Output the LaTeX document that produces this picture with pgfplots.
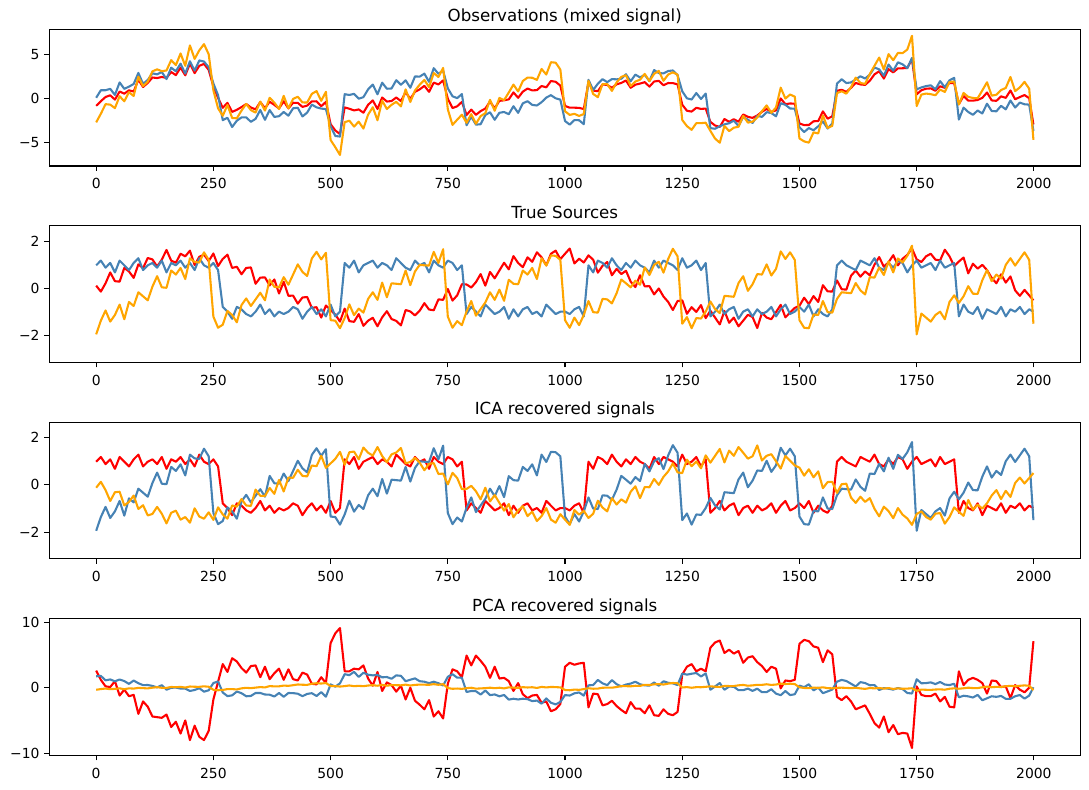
\documentclass[border=0pt]{standalone}
\usepackage{fontspec}
\setmainfont{DejaVu Sans}
\usepackage{pgfplots}
\usepackage{pgfplotstable}
\pgfplotsset{compat=1.18}
\definecolor{mplred}{RGB}{255,0,0}
\definecolor{steelblue}{RGB}{70,130,180}
\definecolor{mplorange}{RGB}{255,165,0}
\pgfplotstableread{
x s1 s2 s3 ms1 o1 o2 o3 p1 p2 p3
0 0.12 0.98 -1.94 -0.12 -0.84 0.08 -2.72 2.6 1.74 -0.32
10 -0.13 1.18 -1.36 0.13 -0.31 0.94 -1.74 1.2 1.80 -0.21
20 0.22 0.88 -0.93 -0.22 0.17 0.94 -0.65 0.2 1.12 -0.13
30 0.68 1.08 -1.40 -0.68 0.36 1.10 -0.70 0.1 1.26 -0.23
40 0.31 0.68 -1.12 -0.31 -0.13 0.40 -1.10 1.0 0.97 -0.18
50 0.29 1.18 -0.68 -0.29 0.79 1.83 0.26 -1.2 1.25 -0.10
60 0.87 0.98 -1.30 -0.87 0.55 1.10 -0.32 -0.3 1.01 -0.23
70 0.72 0.78 -0.57 -0.72 0.93 1.35 0.72 -1.3 0.58 -0.10
80 0.45 1.08 -0.74 -0.45 0.79 1.65 0.28 -1.1 1.09 -0.14
90 1.02 1.28 -0.16 -1.02 2.14 2.91 2.49 -4.0 0.68 -0.03
100 0.86 0.78 -0.33 -0.86 1.31 1.66 1.41 -2.1 0.39 -0.07
110 1.29 0.98 -0.50 -1.29 1.77 2.11 1.92 -2.9 0.41 -0.11
120 1.23 1.08 0.08 -1.23 2.39 2.86 3.09 -4.4 0.27 0.00
130 0.93 0.88 0.52 -0.93 2.33 2.75 3.32 -4.5 0.05 0.08
140 1.22 1.18 0.05 -1.22 2.45 3.02 3.11 -4.6 0.38 -0.02
150 1.63 0.68 0.03 -1.63 2.34 2.21 3.19 -4.1 -0.31 -0.03
160 1.18 1.08 0.76 -1.18 3.02 3.51 4.37 -6.0 -0.02 0.11
170 1.09 0.98 0.59 -1.09 2.66 3.10 3.80 -5.2 0.02 0.07
180 1.47 1.18 0.87 -1.47 3.52 3.97 5.13 -7.0 -0.14 0.12
190 1.36 0.88 0.40 -1.36 2.64 2.84 3.72 -5.0 -0.14 0.02
200 1.60 1.08 1.28 -1.60 3.96 4.24 6.04 -8.0 -0.50 0.18
210 0.99 0.78 1.12 -0.99 2.89 3.18 4.51 -5.8 -0.35 0.14
220 1.34 1.28 1.10 -1.34 3.72 4.33 5.49 -7.5 -0.08 0.13
230 1.43 0.98 1.53 -1.43 3.94 4.21 6.19 -8.0 -0.61 0.21
240 1.16 0.88 1.21 -1.16 3.25 3.55 5.04 -6.6 -0.40 0.14
250 1.48 1.08 -1.19 -1.48 1.37 1.71 0.92 -1.8 0.71 -0.32
260 0.95 0.78 -1.66 -0.95 0.07 0.38 -1.12 0.9 0.95 -0.39
270 1.25 -0.78 -1.53 -1.25 -1.06 -2.47 -1.97 3.6 -0.73 -0.35
280 1.43 -0.98 -0.95 -1.43 -0.50 -2.20 -0.74 2.4 -1.29 -0.21
290 0.87 -1.28 -1.12 -0.87 -1.53 -3.25 -2.22 4.5 -1.17 -0.22
300 0.92 -0.78 -1.43 -0.92 -1.29 -2.53 -2.26 4.0 -0.59 -0.27
310 0.60 -0.88 -0.70 -0.60 -0.98 -2.16 -1.38 3.0 -0.84 -0.10
320 0.87 -1.08 -0.42 -0.87 -0.63 -2.15 -0.62 2.3 -1.31 -0.02
330 0.89 -1.18 -0.74 -0.89 -1.03 -2.66 -1.33 3.3 -1.26 -0.07
340 0.20 -0.98 -0.46 -0.20 -1.24 -2.32 -1.60 3.4 -0.81 0.01
350 0.46 -0.68 -0.18 -0.46 -0.40 -1.31 -0.35 1.6 -0.81 0.09
360 0.47 -1.08 -0.50 -0.47 -1.11 -2.43 -1.38 3.2 -1.04 0.04
370 0.13 -0.88 0.38 -0.13 -0.37 -1.32 0.08 1.3 -1.07 0.24
380 0.38 -1.18 0.07 -0.38 -0.73 -2.10 -0.47 2.2 -1.35 0.20
390 -0.21 -0.98 0.05 0.21 -1.14 -2.02 -1.20 2.9 -0.81 0.21
400 0.28 -1.08 0.48 -0.28 -0.32 -1.54 0.30 1.2 -1.39 0.32
410 -0.31 -0.98 0.16 0.31 -1.13 -1.96 -1.13 2.8 -0.81 0.28
420 -0.30 -0.78 0.59 0.30 -0.49 -1.12 -0.05 1.3 -0.83 0.38
430 -0.64 -0.88 1.02 0.64 -0.50 -1.06 0.20 1.1 -0.92 0.49
440 -0.38 -1.28 0.70 0.38 -0.96 -2.05 -0.45 2.3 -1.30 0.45
450 -0.36 -0.98 0.53 0.36 -0.81 -1.61 -0.46 2.0 -0.95 0.43
460 -0.82 -0.78 1.27 0.82 -0.33 -0.70 0.53 0.6 -0.84 0.60
470 -0.79 -1.08 1.55 0.79 -0.32 -1.01 0.84 0.5 -1.27 0.68
480 -1.23 -0.88 1.23 1.23 -0.88 -1.15 -0.27 1.6 -0.68 0.63
490 -0.72 -1.18 1.51 0.72 -0.39 -1.21 0.76 0.7 -1.38 0.71
500 -0.91 -0.68 -1.34 0.91 -2.93 -3.16 -4.73 6.8 0.50 0.26
510 -1.10 -1.18 -1.36 1.10 -3.64 -4.27 -5.55 8.3 0.16 0.24
520 -1.40 -0.98 -1.68 1.40 -4.06 -4.34 -6.44 9.1 0.66 0.17
530 -0.85 1.08 -1.25 0.85 -1.02 0.49 -2.70 2.5 2.06 0.24
540 -1.38 0.88 -0.67 1.38 -1.17 0.40 -2.53 2.5 1.91 0.34
550 -1.41 1.18 -1.13 1.41 -1.36 0.53 -3.20 2.9 2.42 0.23
560 -1.08 0.68 -0.85 1.08 -1.25 -0.03 -2.64 2.8 1.64 0.28
570 -1.58 0.98 -1.02 1.58 -1.62 0.15 -3.43 3.4 2.28 0.23
580 -1.36 1.08 -0.44 1.36 -0.72 1.04 -1.84 1.4 1.98 0.33
590 -1.24 1.18 -0.16 1.24 -0.22 1.58 -1.00 0.3 1.88 0.38
600 -1.60 0.88 -0.48 1.60 -1.20 0.48 -2.48 2.4 1.95 0.30
610 -1.22 1.08 0.25 1.22 0.11 1.80 -0.25 -0.5 1.58 0.43
620 -0.96 0.98 -0.37 0.96 -0.35 1.11 -1.20 0.8 1.63 0.30
630 -1.29 0.78 0.22 1.29 -0.29 1.14 -0.72 0.4 1.36 0.40
640 -1.37 1.28 0.20 1.37 0.11 2.08 -0.38 -0.6 1.88 0.38
650 -1.56 1.08 0.18 1.56 -0.30 1.56 -0.90 0.3 1.81 0.36
660 -0.91 0.88 0.76 0.91 0.73 2.07 1.04 -1.8 0.99 0.47
670 -0.97 0.78 0.14 0.97 -0.05 1.22 -0.40 0.0 1.21 0.33
680 -1.14 1.18 0.72 1.14 0.76 2.51 0.91 -2.0 1.42 0.43
690 -0.94 0.98 1.00 0.94 1.04 2.49 1.57 -2.6 0.99 0.47
700 -0.62 1.08 0.98 0.62 1.44 2.83 2.11 -3.3 0.91 0.46
710 -0.89 0.68 0.97 0.89 0.76 1.89 1.29 -1.9 0.69 0.44
720 -0.92 1.18 1.55 0.92 1.81 3.45 2.90 -4.4 0.91 0.54
730 -0.46 0.98 1.08 0.46 1.60 2.81 2.45 -3.6 0.68 0.44
740 -0.48 0.88 1.66 0.48 2.06 3.18 3.48 -4.7 0.33 0.54
750 -0.02 1.18 -1.19 0.02 -0.03 1.16 -1.23 0.6 1.66 -0.06
760 -0.51 1.08 -1.66 0.51 -1.09 0.25 -3.01 2.8 2.06 -0.17
770 -0.29 0.78 -1.38 0.29 -0.89 0.04 -2.42 2.5 1.53 -0.13
780 0.18 0.98 -1.55 -0.18 -0.39 0.50 -1.85 1.6 1.52 -0.18
790 0.17 -1.08 -0.97 -0.17 -1.88 -3.05 -2.77 4.9 -0.66 -0.08
800 0.04 -0.78 -0.53 -0.04 -1.27 -2.07 -1.78 3.4 -0.50 -0.01
810 0.27 -0.98 -1.15 -0.27 -1.86 -2.98 -2.88 4.9 -0.54 -0.15
820 0.61 -1.18 -0.87 -0.61 -1.44 -2.93 -2.01 4.1 -1.05 -0.11
830 0.12 -0.68 -0.59 -0.12 -1.15 -1.89 -1.68 3.2 -0.43 -0.07
840 0.70 -0.88 -0.16 -0.70 -0.34 -1.57 -0.15 1.5 -1.14 0.00
850 0.43 -1.08 -0.48 -0.43 -1.13 -2.43 -1.40 3.2 -1.03 -0.08
860 0.76 -0.98 -0.05 -0.76 -0.27 -1.63 0.06 1.4 -1.32 -0.01
870 1.09 -0.78 -0.52 -1.09 -0.21 -1.54 -0.19 1.5 -1.11 -0.11
880 0.81 -1.28 0.37 -0.81 -0.10 -1.79 0.68 1.0 -1.82 0.05
890 1.37 -0.88 0.20 -1.37 0.69 -0.88 1.58 -0.5 -1.69 0.00
900 1.08 -1.18 0.18 -1.08 0.08 -1.64 0.80 0.7 -1.80 -0.02
910 0.90 -0.88 0.76 -0.90 0.78 -0.55 1.99 -1.0 -1.68 0.08
920 1.32 -0.78 0.59 -1.32 1.13 -0.31 2.38 -1.6 -1.75 0.03
930 1.13 -1.08 0.87 -1.13 0.92 -0.73 2.36 -1.2 -2.05 0.07
940 1.53 -0.98 0.40 -1.53 0.95 -0.80 2.12 -1.1 -1.97 -0.04
950 1.32 -1.18 1.28 -1.32 1.42 -0.42 3.36 -2.3 -2.44 0.12
960 0.98 -0.68 0.97 -0.98 1.27 0.10 2.73 -2.1 -1.64 0.04
970 1.47 -0.88 1.40 -1.47 1.99 0.38 4.13 -3.6 -2.30 0.11
980 1.60 -1.08 1.38 -1.60 1.90 0.02 4.08 -3.3 -2.55 0.09
990 1.24 -0.98 1.21 -1.24 1.47 -0.13 3.30 -2.5 -2.18 0.04
1000 1.47 -0.98 -1.34 -1.47 -0.85 -2.57 -1.46 3.2 -1.13 -0.35
1010 1.69 -1.08 -1.66 -1.69 -1.05 -2.98 -1.87 3.8 -1.20 -0.39
1020 1.06 -0.88 -1.23 -1.06 -1.05 -2.46 -1.75 3.5 -0.86 -0.29
1030 1.26 -0.78 -1.55 -1.26 -1.07 -2.48 -1.99 3.7 -0.73 -0.33
1040 1.10 -1.18 -1.12 -1.10 -1.20 -2.93 -1.77 3.8 -1.21 -0.22
1050 1.40 0.98 -0.53 -1.40 1.85 2.13 2.02 -3.0 0.36 -0.09
1060 1.22 0.68 -1.00 -1.22 0.90 0.97 0.51 -0.9 0.40 -0.16
1070 0.67 1.18 -1.02 -0.67 0.83 1.68 0.15 -1.0 1.18 -0.14
1080 0.96 1.08 -0.44 -0.96 1.60 2.20 1.64 -2.7 0.66 -0.01
1090 1.12 0.88 -0.46 -1.12 1.54 1.86 1.64 -2.5 0.39 0.01
1100 0.56 1.28 -0.63 -0.56 1.21 2.21 0.86 -2.0 1.16 0.00
1110 0.83 0.98 -0.20 -0.83 1.61 2.18 1.83 -2.8 0.53 0.10
1120 0.61 0.78 0.38 -0.61 1.77 2.25 2.46 -3.4 0.20 0.24
1130 0.75 1.08 0.22 -0.75 2.05 2.76 2.65 -3.9 0.48 0.23
1140 0.29 0.88 0.05 -0.29 1.22 1.96 1.42 -2.2 0.63 0.21
1150 0.06 1.18 0.33 -0.06 1.57 2.72 1.93 -3.2 0.91 0.29
1160 0.56 0.98 0.16 -0.56 1.70 2.40 2.14 -3.2 0.52 0.28
1170 0.09 0.88 0.89 -0.09 1.86 2.70 2.80 -3.9 0.36 0.44
1180 0.10 0.68 0.57 -0.10 1.35 1.98 1.97 -2.7 0.31 0.40
1190 -0.25 1.18 1.00 0.25 1.93 3.24 2.81 -4.2 0.78 0.51
1200 0.00 0.88 1.13 0.00 2.01 2.89 3.14 -4.3 0.30 0.55
1210 -0.34 1.18 0.67 0.34 1.51 2.86 2.01 -3.3 0.98 0.48
1220 -0.57 1.08 1.25 0.57 1.76 3.13 2.73 -4.0 0.75 0.62
1230 -0.91 0.98 1.68 0.91 1.75 3.19 2.98 -4.2 0.66 0.72
1240 -0.53 0.78 1.36 0.53 1.61 2.66 2.71 -3.7 0.40 0.68
1250 -0.50 1.28 -1.49 0.50 -0.71 0.82 -2.45 2.0 2.16 0.03
1260 -1.07 0.88 -1.21 1.07 -1.40 0.02 -3.15 3.2 1.99 0.09
1270 -0.79 0.98 -1.68 0.79 -1.49 -0.12 -3.57 3.6 2.13 -0.01
1280 -0.99 1.18 -1.25 0.99 -1.06 0.62 -2.81 2.5 2.24 0.08
1290 -0.70 0.78 -1.27 0.70 -1.19 -0.06 -2.81 2.9 1.71 0.07
1300 -1.25 1.08 -0.98 1.25 -1.15 0.56 -2.76 2.5 2.17 0.13
1310 -0.94 -1.18 -0.55 0.94 -2.67 -3.38 -3.69 6.1 -0.31 0.21
1320 -1.23 -0.98 -0.87 1.23 -3.08 -3.45 -4.57 6.9 0.19 0.15
1330 -1.52 -0.68 -1.04 1.52 -3.24 -3.16 -5.04 7.2 0.71 0.11
1340 -0.95 -1.08 -0.31 0.95 -2.34 -2.95 -3.13 5.3 -0.32 0.26
1350 -1.45 -0.88 -0.33 1.45 -2.66 -2.82 -3.72 5.8 0.16 0.25
1360 -1.23 -0.78 -0.35 1.23 -2.36 -2.53 -3.33 5.2 0.14 0.25
1370 -1.60 -1.28 0.23 1.60 -2.65 -3.13 -3.22 5.6 -0.38 0.36
1380 -1.36 -0.98 0.52 1.36 -1.82 -2.12 -1.98 3.8 -0.38 0.42
1390 -1.11 -0.88 -0.10 1.11 -2.09 -2.42 -2.75 4.6 -0.14 0.30
1400 -1.21 -1.18 0.18 1.21 -2.21 -2.79 -2.64 4.8 -0.49 0.35
1410 -1.67 -0.88 0.61 1.67 -1.94 -1.99 -2.17 3.9 -0.15 0.44
1420 -1.03 -1.08 0.59 1.03 -1.52 -2.09 -1.45 3.3 -0.69 0.43
1430 -1.23 -0.98 1.02 1.23 -1.19 -1.56 -0.79 2.4 -0.68 0.52
1440 -1.30 -0.78 0.55 1.30 -1.53 -1.66 -1.63 3.2 -0.24 0.42
1450 -1.00 -1.18 0.83 1.00 -1.35 -2.03 -1.02 2.9 -0.91 0.48
1460 -0.69 -0.88 1.57 0.69 0.00 -0.54 1.23 -0.1 -1.15 0.62
1470 -1.22 -0.68 1.25 1.22 -0.65 -0.72 -0.01 1.1 -0.51 0.56
1480 -1.02 -1.08 1.53 1.02 -0.57 -1.14 0.45 1.0 -1.13 0.61
1490 -0.82 -0.98 1.21 0.82 -0.59 -1.16 0.21 1.2 -1.00 0.55
1500 -0.73 -0.78 -1.34 0.73 -2.85 -3.27 -4.56 6.7 0.31 0.06
1510 -0.39 -0.98 -1.66 0.39 -3.03 -3.82 -4.89 7.3 0.08 -0.04
1520 -0.66 -0.68 -1.68 0.66 -3.02 -3.37 -5.03 7.1 0.52 -0.07
1530 -0.32 -1.18 -1.10 0.32 -2.60 -3.62 -3.86 6.3 -0.41 0.01
1540 -0.57 -0.88 -1.12 0.57 -2.57 -3.17 -3.98 6.1 0.02 -0.03
1550 0.14 -1.08 -0.53 -0.14 -1.47 -2.62 -1.93 3.9 -0.84 0.06
1560 -0.12 -1.18 -1.00 0.12 -2.30 -3.42 -3.36 5.7 -0.57 -0.07
1570 -0.13 -0.88 -1.02 0.13 -2.03 -2.85 -3.12 5.1 -0.28 -0.10
1580 0.34 0.98 -0.44 -0.34 0.88 1.69 0.61 -1.4 0.92 -0.02
1590 -0.03 1.18 -0.16 0.03 0.99 2.19 0.82 -1.9 1.19 0.00
1600 -0.05 0.98 -0.18 0.05 0.75 1.76 0.55 -1.3 1.02 -0.03
1610 0.54 0.88 -0.20 -0.54 1.22 1.83 1.29 -2.1 0.60 -0.07
1620 0.76 0.78 0.23 -0.76 1.77 2.17 2.38 -3.3 0.19 -0.02
1630 0.50 1.18 -0.08 -0.50 1.60 2.53 1.77 -3.0 0.85 -0.11
1640 0.72 1.08 -0.25 -0.72 1.55 2.27 1.66 -2.7 0.71 -0.18
1650 0.56 0.98 0.48 -0.56 2.02 2.72 2.78 -4.0 0.37 -0.06
1660 1.01 1.28 0.46 -1.01 2.75 3.53 3.72 -5.4 0.40 -0.10
1670 1.33 0.88 0.89 -1.33 3.10 3.32 4.66 -6.1 -0.35 -0.05
1680 0.92 0.78 0.57 -0.92 2.27 2.59 3.30 -4.4 -0.06 -0.14
1690 1.11 1.08 1.15 -1.11 3.34 3.87 5.05 -6.8 -0.16 -0.06
1700 1.41 0.88 0.68 -1.41 2.97 3.15 4.36 -5.7 -0.30 -0.19
1710 0.98 1.18 1.27 -0.98 3.43 4.12 5.19 -7.1 -0.05 -0.10
1720 1.26 1.08 1.10 -1.26 3.44 3.89 5.17 -6.9 -0.22 -0.17
1730 1.42 0.68 1.38 -1.42 3.48 3.45 5.57 -7.0 -0.81 -0.14
1740 1.69 0.98 1.81 -1.69 4.48 4.62 7.14 -9.2 -0.89 -0.09
1750 1.23 1.18 -1.94 -1.23 0.47 1.04 -0.86 0.2 1.29 -0.47
1760 1.12 0.88 -1.06 -1.12 0.94 1.26 0.44 -1.1 0.67 -0.29
1770 1.36 0.98 -1.23 -1.36 1.11 1.41 0.56 -1.3 0.70 -0.32
1780 1.47 1.08 -1.40 -1.47 1.15 1.50 0.49 -1.3 0.81 -0.34
1790 1.22 0.78 -1.12 -1.22 0.88 1.05 0.37 -0.9 0.55 -0.28
1800 1.19 1.18 -0.98 -1.19 1.39 1.98 1.01 -2.1 0.87 -0.25
1810 1.64 0.88 -1.30 -1.64 1.22 1.28 0.74 -1.4 0.48 -0.31
1820 1.36 0.98 -0.57 -1.36 1.77 2.07 1.88 -2.9 0.40 -0.16
1830 0.95 1.08 -0.29 -0.95 1.74 2.35 1.93 -3.0 0.60 -0.10
1840 1.14 -1.18 -0.61 -1.14 -0.65 -2.40 -0.69 2.5 -1.47 -0.16
1850 1.31 -0.68 -0.33 -1.31 0.30 -1.04 0.63 0.4 -1.23 -0.09
1860 0.64 -0.98 0.10 -0.64 -0.24 -1.54 0.18 1.2 -1.32 0.00
1870 1.05 -1.08 -0.22 -1.05 -0.25 -1.86 0.06 1.5 -1.50 -0.06
1880 0.84 -0.78 -0.23 -0.84 -0.17 -1.37 0.02 1.2 -1.10 -0.06
1890 1.00 -1.28 0.35 -1.00 0.07 -1.71 0.92 0.7 -1.92 0.06
1900 0.78 -0.88 0.78 -0.78 0.68 -0.59 1.85 -0.9 -1.62 0.16
1910 0.45 -0.98 0.31 -0.45 -0.22 -1.43 0.32 1.1 -1.31 0.07
1920 0.22 -1.08 0.59 -0.22 -0.27 -1.46 0.43 1.0 -1.40 0.13
1930 0.60 -0.78 0.42 -0.60 0.24 -0.84 0.96 0.1 -1.26 0.10
1940 0.25 -1.18 1.00 -0.25 0.07 -1.24 1.20 0.2 -1.70 0.22
1950 0.51 -0.88 1.28 -0.51 0.91 -0.23 2.45 -1.6 -1.70 0.28
1960 -0.08 -0.98 0.97 0.08 -0.09 -1.03 0.84 0.4 -1.31 0.22
1970 -0.31 -0.78 1.25 0.31 0.16 -0.47 1.26 -0.3 -1.12 0.29
1980 -0.06 -1.08 1.53 0.06 0.39 -0.66 1.89 -0.7 -1.67 0.35
1990 -0.29 -0.88 1.21 0.29 0.04 -0.70 1.11 0.0 -1.21 0.29
1999 -0.50 -0.98 -1.49 0.50 -2.97 -3.70 -4.71 7.1 0.06 -0.38
}\datatable
\pgfplotsset{
  panel/.style={
    scale only axis,
    width=742.3pt, height=98.4pt,
    anchor=north west,
    xmin=-99.95, xmax=2098.95,
    xtick={0,250,500,750,1000,1250,1500,1750,2000},
    xticklabels={0,250,500,750,1000,1250,1500,1750,2000},
    tick align=outside,
    major tick length=3.5pt,
    every tick/.style={black, line width=0.8pt},
    axis line style={black, line width=0.8pt},
    tick label style={font=\fontsize{10}{12}\selectfont},
    xticklabel style={yshift=-2pt},
    every axis title shift=0pt,
    title style={font=\fontsize{12}{14}\selectfont, at={(0.5,1)}, anchor=base, yshift=5.5pt, inner sep=0pt},
    xtick pos=bottom, ytick pos=left,
    every axis plot/.append style={line width=1.5pt, line join=round},
  }
}
\begin{document}
\begin{tikzpicture}
\useasboundingbox (0pt,0pt) rectangle (784.08pt,-568.08pt);
\begin{axis}[panel, at={(35.5pt,-21.1pt)}, ymin=-7.69, ymax=7.88,
  ytick={-5,0,5}, yticklabels={−5,0,5}, title={Observations (mixed signal)}]
\addplot[mplred] table[x=x,y=o1] {\datatable};
\addplot[steelblue] table[x=x,y=o2] {\datatable};
\addplot[mplorange] table[x=x,y=o3] {\datatable};
\end{axis}
\begin{axis}[panel, at={(35.5pt,-162.6pt)}, ymin=-3.13, ymax=2.65,
  ytick={-2,0,2}, yticklabels={−2,0,2}, title={True Sources}]
\addplot[mplred] table[x=x,y=s1] {\datatable};
\addplot[steelblue] table[x=x,y=s2] {\datatable};
\addplot[mplorange] table[x=x,y=s3] {\datatable};
\end{axis}
\begin{axis}[panel, at={(35.5pt,-304.0pt)}, ymin=-3.13, ymax=2.65,
  ytick={-2,0,2}, yticklabels={−2,0,2}, title={ICA recovered signals}]
\addplot[mplred] table[x=x,y=s2] {\datatable};
\addplot[steelblue] table[x=x,y=s3] {\datatable};
\addplot[mplorange] table[x=x,y=ms1] {\datatable};
\end{axis}
\begin{axis}[panel, at={(35.5pt,-445.5pt)}, ymin=-10.34, ymax=10.52,
  ytick={-10,0,10}, yticklabels={−10,0,10}, title={PCA recovered signals}]
\addplot[mplred] table[x=x,y=p1] {\datatable};
\addplot[steelblue] table[x=x,y=p2] {\datatable};
\addplot[mplorange] table[x=x,y=p3] {\datatable};
\end{axis}
\end{tikzpicture}
\end{document}
